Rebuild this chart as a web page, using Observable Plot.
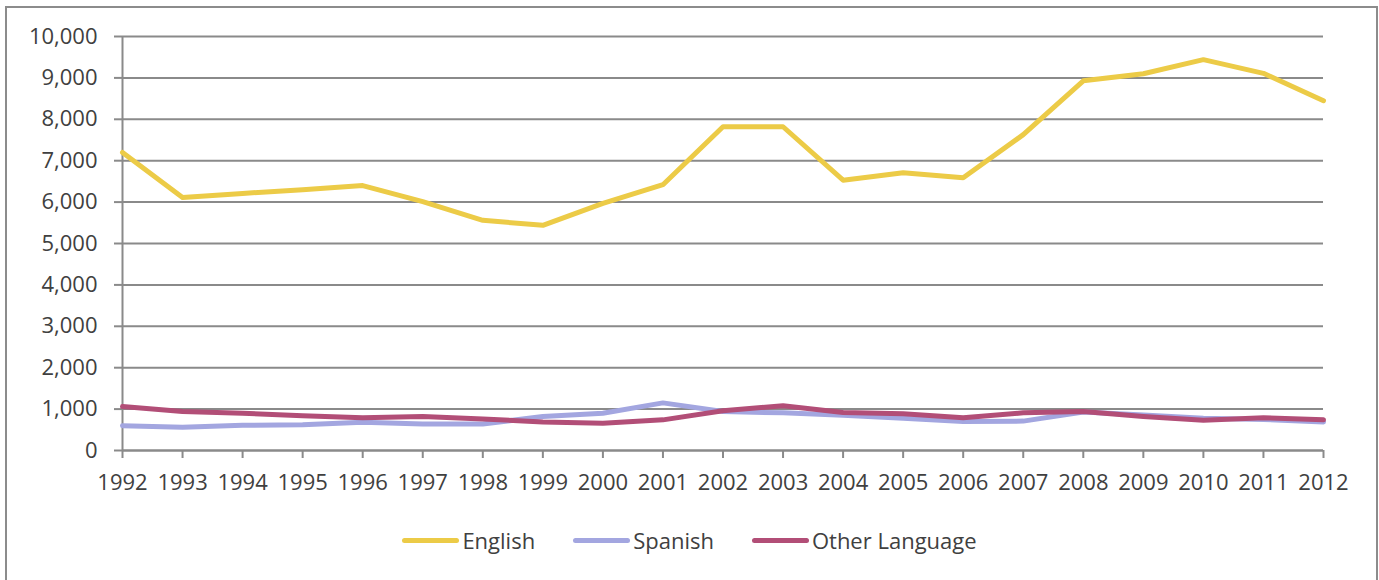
<!DOCTYPE html>
<html><head><meta charset="utf-8">
<script src="https://cdn.jsdelivr.net/npm/d3@7"></script>
<script src="https://cdn.jsdelivr.net/npm/@observablehq/plot@0.6"></script>
<style>
body{margin:0;background:#fff;font-family:"Open Sans",sans-serif;}
#frame{position:absolute;left:5px;top:6px;width:1373px;height:600px;border:2px solid #8c8c8c;border-bottom:none;box-sizing:border-box;pointer-events:none;}
#chart{position:absolute;left:0;top:0;}
#legend{position:absolute;top:525px;left:0;width:1379px;display:flex;justify-content:center;gap:38px;font-size:22px;color:#404040;font-family:"Open Sans",sans-serif;}
.item{display:flex;align-items:center;gap:3px}
.sw{width:57px;height:5px;border-radius:3px}
</style></head><body>
<div id="chart"></div>
<div id="legend"></div>
<div id="frame"></div>
<script>
const years = [1992,1993,1994,1995,1996,1997,1998,1999,2000,2001,2002,2003,2004,2005,2006,2007,2008,2009,2010,2011,2012];
const english = [7200,6110,6210,6300,6400,6010,5560,5440,5970,6420,7820,7820,6530,6710,6590,7630,8930,9100,9440,9110,8450];
const spanish = [600,560,610,620,680,640,640,820,900,1150,940,910,850,780,700,710,930,860,780,750,690];
const other = [1060,940,900,840,790,820,760,690,660,740,960,1080,920,890,790,910,940,820,730,790,740];
const seriesNames = ["English","Spanish","Other Language"];
const seriesColors = ["#ECCB47","#A3A6E0","#B24E77"];
const yTicks = [0,1000,2000,3000,4000,5000,6000,7000,8000,9000,10000];

const rows = [];
[english, spanish, other].forEach((vals, s) => {
  vals.forEach((v, i) => rows.push({year: years[i], value: v, series: seriesNames[s]}));
});

const gridColor = "#8a8a8a";
const plot = Plot.plot({
  width: 1379,
  height: 510,
  marginLeft: 122,
  marginRight: 56,
  marginTop: 36,
  marginBottom: 60,
  style: {fontFamily: "'Open Sans', sans-serif", fontSize: "22px", background: "transparent"},
  x: {domain: [1992, 2012], type: "linear"},
  y: {domain: [0, 10000]},
  color: {domain: seriesNames, range: seriesColors},
  marks: [
    Plot.gridY(yTicks, {stroke: gridColor, strokeOpacity: 1, strokeWidth: 2}),
    Plot.axisY(yTicks, {tickSize: 8, tickPadding: 17, tickFormat: d3.format(","), stroke: gridColor, strokeWidth: 2, fill: "#404040", label: null}),
    Plot.axisX(years, {tickSize: 8, tickPadding: 16, tickFormat: d => String(d), stroke: gridColor, strokeWidth: 2, fill: "#404040", label: null}),
    Plot.ruleX([1992], {stroke: gridColor, strokeWidth: 2}),
    Plot.ruleY([0], {stroke: gridColor, strokeWidth: 2}),
    Plot.line(rows, {x: "year", y: "value", z: "series", stroke: "series", strokeWidth: 5, strokeLinejoin: "round", strokeLinecap: "round"})
  ]
});
document.getElementById("chart").appendChild(plot);

const legend = document.getElementById("legend");
seriesNames.forEach((n, i) => {
  const it = document.createElement("div");
  it.className = "item";
  const sw = document.createElement("div");
  sw.className = "sw";
  sw.style.background = seriesColors[i];
  const t = document.createElement("span");
  t.textContent = n;
  it.appendChild(sw); it.appendChild(t);
  legend.appendChild(it);
});
</script>
</body></html>
